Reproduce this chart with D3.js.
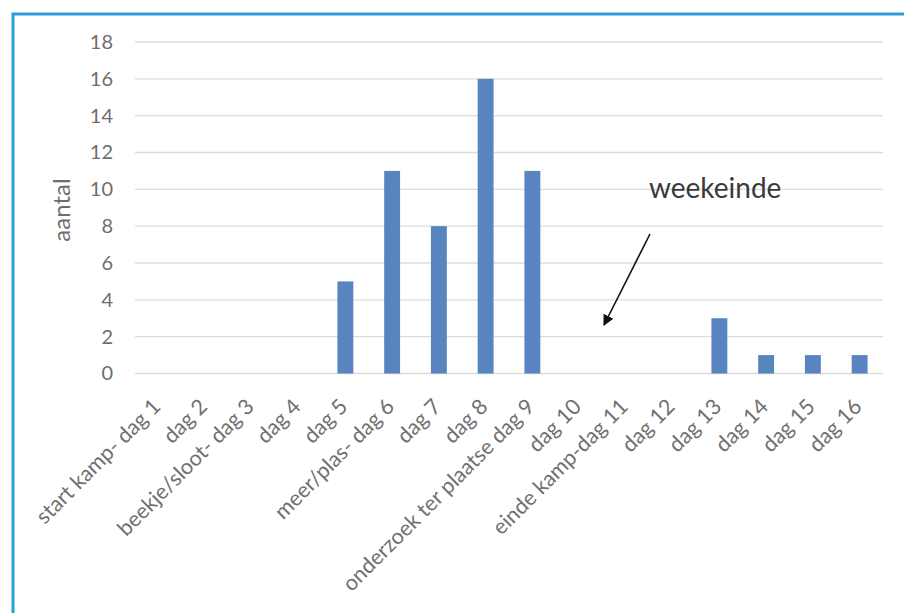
<!DOCTYPE html>
<html>
<head>
<meta charset="utf-8">
<script src="https://cdn.jsdelivr.net/npm/d3@7/dist/d3.min.js"></script>
<style>
  html, body { margin: 0; padding: 0; background: #ffffff; }
  svg { display: block; }
  text { font-family: Lato, "Open Sans", sans-serif; }
</style>
</head>
<body>
<svg id="chart" width="904" height="613"></svg>
<script>
const categories = ["start kamp- dag 1", "dag 2", "beekje/sloot- dag 3", "dag 4", "dag 5",
  "meer/plas- dag 6", "dag 7", "dag 8", "onderzoek ter plaatse dag 9", "dag 10",
  "einde kamp-dag 11", "dag 12", "dag 13", "dag 14", "dag 15", "dag 16"];
const values = [0, 0, 0, 0, 5, 11, 8, 16, 11, 0, 0, 0, 3, 1, 1, 1];
const yTicks = [0, 2, 4, 6, 8, 10, 12, 14, 16, 18];
const yTitle = "aantal";
const annotation = "weekeinde";

const svg = d3.select("#chart");

// blue frame
svg.append("path")
  .attr("d", "M13,620 L13,14 L910,14")
  .attr("fill", "none")
  .attr("stroke", "#2b9ed8")
  .attr("stroke-width", 3);

const pL = 135, pR = 883, pT = 42, pB = 373.5;

const x = d3.scaleBand().domain(categories).range([pL, pR]).paddingInner(0.66).paddingOuter(0.33);
const y = d3.scaleLinear().domain([0, 18]).range([pB, pT]);

// gridlines
svg.append("g").selectAll("line").data(yTicks).join("line")
  .attr("x1", pL).attr("x2", pR)
  .attr("y1", d => y(d)).attr("y2", d => y(d))
  .attr("stroke", "#dcdcdc").attr("stroke-width", 1.3);

// y axis labels
const yAxis = d3.axisLeft(y).tickValues(yTicks).tickSize(0).tickPadding(0);
const gy = svg.append("g").attr("transform", `translate(113,0)`).call(yAxis);
gy.select(".domain").remove();
gy.selectAll("text").attr("font-size", 20).attr("fill", "#6e6e6e")
  .style("font-family", "Lato, sans-serif");

// bars
svg.append("g").selectAll("rect").data(values).join("rect")
  .attr("x", (d, i) => x(categories[i]))
  .attr("width", x.bandwidth())
  .attr("y", d => y(d))
  .attr("height", d => pB - y(d))
  .attr("fill", "#5884c0");

// x labels
const xl = svg.append("g");
xl.selectAll("text").data(categories).join("text")
  .attr("transform", d => `translate(${x(d) + x.bandwidth() / 2 + 3.5},408) rotate(-45)`)
  .attr("text-anchor", "end")
  .attr("font-size", 21.5)
  .attr("fill", "#707070")
  .text(d => d);

// y title
svg.append("text")
  .attr("transform", "translate(70,210) rotate(-90)")
  .attr("text-anchor", "middle")
  .attr("font-size", 24)
  .attr("fill", "#6e6e6e")
  .text(yTitle);

// annotation
svg.append("text")
  .attr("x", 649).attr("y", 198)
  .attr("font-size", 28)
  .attr("fill", "#3a3a3a")
  .text(annotation);

// arrow
const defs = svg.append("defs");
defs.append("marker").attr("id", "ah")
  .attr("viewBox", "0 0 10 10").attr("refX", 9).attr("refY", 5)
  .attr("markerWidth", 11).attr("markerHeight", 11).attr("orient", "auto")
  .attr("markerUnits", "userSpaceOnUse")
  .append("path").attr("d", "M0,0 L10,5 L0,10 z").attr("fill", "#111");
svg.append("line")
  .attr("x1", 650).attr("y1", 234).attr("x2", 604).attr("y2", 325)
  .attr("stroke", "#111").attr("stroke-width", 1.6)
  .attr("marker-end", "url(#ah)");
</script>
</body>
</html>
